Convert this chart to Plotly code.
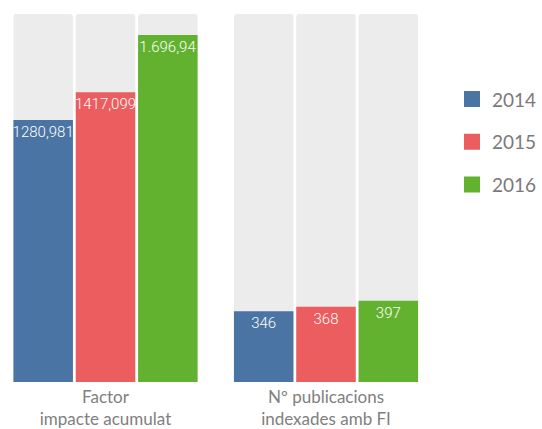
import plotly.graph_objects as go

categories = ["Factor<br>impacte acumulat", "Nº publicacions<br>indexades amb FI"]
years = ["2014", "2015", "2016"]
values = {
    "2014": [1280.981, 346],
    "2015": [1417.099, 368],
    "2016": [1696.94, 397],
}
labels = {
    "2014": ["1280,981", "346"],
    "2015": ["1417,099", "368"],
    "2016": ["1.696,94", "397"],
}
colors = {"2014": "#4a74a3", "2015": "#eb5d5e", "2016": "#62b22f"}
scale_max = 1800

fig = go.Figure()
for yr in years:
    fig.add_trace(go.Bar(
        x=categories, y=[scale_max] * len(categories), offsetgroup=yr,
        marker=dict(color="#ececec", cornerradius=3, line=dict(width=0)),
        showlegend=False, hoverinfo="skip",
    ))
for yr in years:
    fig.add_trace(go.Bar(
        x=categories, y=values[yr], offsetgroup=yr, name=yr,
        text=labels[yr], textposition="inside", insidetextanchor="end",
        textangle=0,
        textfont=dict(color="white", size=15, family="Roboto", weight=300),
        marker=dict(color=colors[yr], line=dict(width=0)),
        showlegend=False,
    ))
for i, yr in enumerate(years):
    fig.add_trace(go.Scatter(
        x=[None], y=[None], mode="markers", name=yr, legendgroup=yr,
        marker=dict(symbol="square", size=17, color=colors[yr]),
    ))

fig.update_layout(
    width=542, height=429,
    margin=dict(l=0, r=102, t=14, b=45),
    barmode="group", bargap=0.152, bargroupgap=0.045,
    uniformtext=dict(mode="show", minsize=15),
    plot_bgcolor="white", paper_bgcolor="white",
    font=dict(family="Lato", color="#808080"),
    xaxis=dict(type="category", range=[-0.4785, 1.517], showgrid=False,
               showline=False, zeroline=False, ticks="", ticklabelstandoff=3,
               tickfont=dict(size=17, color="#808080", family="Lato")),
    yaxis=dict(range=[0, scale_max], visible=False),
    legend=dict(x=1.0273, xanchor="left", y=0.82, yanchor="top",
                bgcolor="rgba(0,0,0,0)",
                font=dict(size=19, color="#7a7a7a", family="Lato"),
                tracegroupgap=15, traceorder="grouped"),
)
fig.write_html("out.html", config={"displayModeBar": False},
               post_script="document.body.style.margin='0';")
